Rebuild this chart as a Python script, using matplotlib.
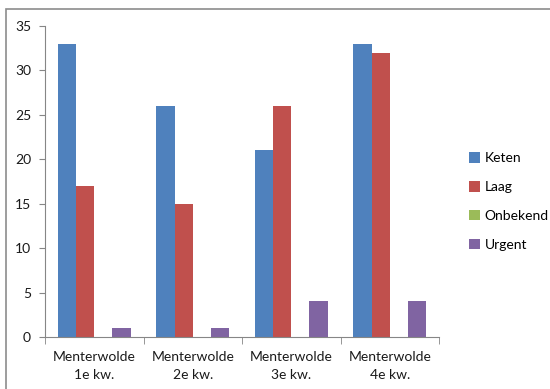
import matplotlib
matplotlib.use('Agg')
import matplotlib.pyplot as plt
from matplotlib.patches import Rectangle
import numpy as np

plt.rcParams['font.family'] = ['Lato', 'DejaVu Sans']

# data
categories = ['Menterwolde\n1e kw.', 'Menterwolde\n2e kw.', 'Menterwolde\n3e kw.', 'Menterwolde\n4e kw.']
series_names = ['Keten', 'Laag', 'Onbekend', 'Urgent']
keten = [33, 26, 21, 33]
laag = [17, 15, 26, 32]
onbekend = [0, 0, 0, 0]
urgent = [1, 1, 4, 4]
colors = ['#4F81BD', '#C0504D', '#9BBB59', '#8064A2']

fig = plt.figure(figsize=(5.5, 3.89), dpi=100)
fig.patches.append(Rectangle((6 / 550, -0.1), 1.2, 1 - 9 / 389 + 0.1, transform=fig.transFigure,
                             fill=False, edgecolor='#8c8c8c', linewidth=1.2))
ax = fig.add_axes([45 / 550, 1 - 337 / 389, (439 - 45) / 550, (337 - 26) / 389])

x = np.arange(len(categories))
w = 0.185
for i, (vals, name) in enumerate(zip([keten, laag, onbekend, urgent], series_names)):
    ax.bar(x + (i - 1.5) * w, vals, w, color=colors[i], label=name, zorder=2)

ax.set_xlim(-0.5, 3.5)
ax.set_ylim(0, 35)
ax.set_yticks(range(0, 36, 5))
ax.set_xticks(x)
ax.set_xticklabels(categories, fontsize=10, color='#1a1a1a', linespacing=1.6)
ax.set_xticks(np.arange(-0.5, 3.6, 1), minor=True)
ax.tick_params(axis='x', which='major', length=0, pad=10)
ax.tick_params(axis='x', which='minor', length=5, color='#868686', direction='out')
ax.tick_params(axis='y', length=4, color='#868686', labelsize=10, labelcolor='#1a1a1a', pad=6)

for s in ['top', 'right']:
    ax.spines[s].set_visible(False)
for s in ['left', 'bottom']:
    ax.spines[s].set_color('#868686')

ax.legend(loc='center left', bbox_to_anchor=(1.045, 0.436), frameon=False, fontsize=10,
          handlelength=0.8, handleheight=0.8, handletextpad=0.3, labelspacing=1.2)

fig.savefig('out.png', dpi=100)
